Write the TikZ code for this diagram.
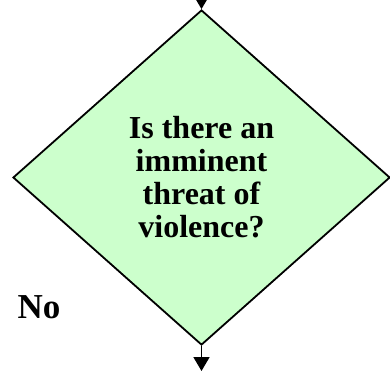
\documentclass[tikz,border=0pt]{standalone}
\usepackage{fontspec}
\setmainfont{Liberation Serif}
\usetikzlibrary{shapes.geometric,arrows.meta}
\definecolor{dfill}{HTML}{CCFFCC}
\tikzset{
  decision/.style={diamond, draw=black, line width=1.8pt, fill=dfill,
    minimum width=377pt, minimum height=335pt, inner sep=0pt,
    align=center, font=\fontsize{32}{33}\selectfont\bfseries},
  flow/.style={draw=black, line width=1.8pt, -{Triangle[length=14pt,width=16pt]}},
  lbl/.style={font=\fontsize{35}{40}\selectfont\bfseries, inner sep=0pt}
}
\begin{document}
\begin{tikzpicture}[x=1pt,y=1pt]
\useasboundingbox (0,0) rectangle (390,370);
\clip (0,0) rectangle (390,370);
\node[decision] (q) at (201.5,192.5) {Is there an\\imminent\\threat of\\violence?};
\coordinate (tin) at (201.5,385);
\coordinate (bout) at (201.5,-1);
\draw[flow] (tin) -- (q.north);
\draw[flow] (q.south) -- (bout);
\node[lbl, anchor=base] (no) at (39,52) {No};
\end{tikzpicture}
\end{document}
